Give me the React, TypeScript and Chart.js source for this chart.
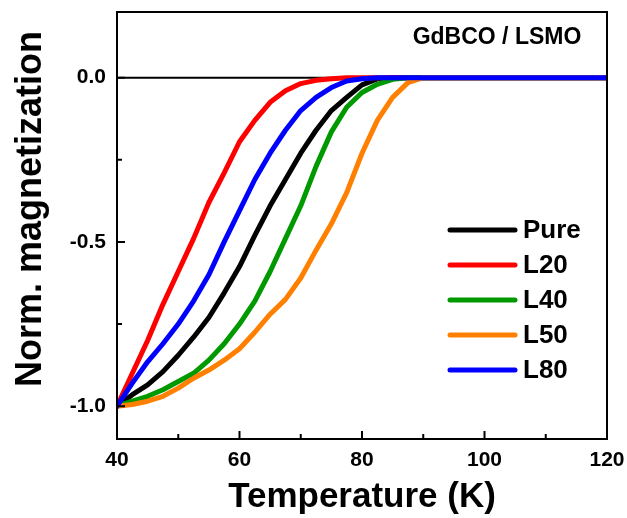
import React, { useEffect, useRef } from "react";
import { Chart, registerables } from "chart.js";

Chart.register(...registerables);

// ---- data ----
const temperatures = [
  40, 42.5, 45, 47.5, 50, 52.5, 55, 57.5, 60, 62.5, 65, 67.5, 70, 72.5, 75,
  77.5, 80, 82.5, 85, 87.5, 90, 95, 100, 105, 110, 115, 120,
];
const pure = [
  -1.0, -0.965, -0.935, -0.895, -0.845, -0.79, -0.73, -0.655, -0.575, -0.48,
  -0.39, -0.31, -0.23, -0.16, -0.1, -0.06, -0.022, -0.004, 0, 0, 0, 0, 0, 0, 0,
  0, 0,
];
const l20 = [
  -1.0, -0.9, -0.8, -0.69, -0.59, -0.49, -0.38, -0.29, -0.195, -0.13, -0.075,
  -0.04, -0.018, -0.008, -0.003, 0, 0, 0, 0, 0, 0, 0, 0, 0, 0, 0, 0,
];
const l40 = [
  -1.0, -0.985, -0.97, -0.95, -0.925, -0.9, -0.86, -0.81, -0.75, -0.68, -0.59,
  -0.49, -0.39, -0.27, -0.165, -0.09, -0.045, -0.02, -0.005, 0, 0, 0, 0, 0, 0,
  0, 0,
];
const l50 = [
  -1.0, -0.995, -0.985, -0.97, -0.945, -0.915, -0.89, -0.86, -0.825, -0.775,
  -0.72, -0.675, -0.61, -0.525, -0.445, -0.35, -0.23, -0.13, -0.06, -0.015, 0,
  0, 0, 0, 0, 0, 0,
];
const l80 = [
  -1.0, -0.93, -0.865, -0.81, -0.75, -0.68, -0.6, -0.5, -0.405, -0.31, -0.23,
  -0.16, -0.1, -0.06, -0.03, -0.01, -0.003, 0, 0, 0, 0, 0, 0, 0, 0, 0, 0,
];
const seriesNames = ["Pure", "L20", "L40", "L50", "L80"];
const seriesValues = [pure, l20, l40, l50, l80];
const seriesColors = ["#000000", "#ff0000", "#009900", "#ff8000", "#0000ff"];
const xTickValues = [40, 50, 60, 70, 80, 90, 100, 110, 120];
const yTickValues = [-1.0, -0.75, -0.5, -0.25, 0];
const sampleLabel = "GdBCO / LSMO";
const xTitle = "Temperature (K)";
const yTitle = "Norm. magnetization";

const FONT = "'Liberation Sans', Arial, sans-serif";

const isMajorX = (v: number) => Math.abs(v % 20) < 1e-9;
const isMajorY = (v: number) => Math.abs(v * 2 - Math.round(v * 2)) < 1e-9;

const framePlugin = {
  id: "frame",
  beforeDatasetsDraw(chart: any) {
    const { ctx, chartArea } = chart;
    const y0 = chart.scales.y.getPixelForValue(0);
    ctx.save();
    ctx.strokeStyle = "#000";
    ctx.lineWidth = 2;
    ctx.beginPath();
    ctx.moveTo(chartArea.left, y0);
    ctx.lineTo(chartArea.right, y0);
    ctx.stroke();
    ctx.restore();
  },
  afterDatasetsDraw(chart: any) {
    const { ctx, chartArea } = chart;
    const xs = chart.scales.x;
    const ys = chart.scales.y;
    ctx.save();
    ctx.strokeStyle = "#000";
    ctx.lineWidth = 2;
    ctx.strokeRect(
      chartArea.left,
      chartArea.top,
      chartArea.right - chartArea.left,
      chartArea.bottom - chartArea.top
    );
    ctx.beginPath();
    xTickValues.forEach((v) => {
      const px = xs.getPixelForValue(v);
      const len = isMajorX(v) ? 8 : 5;
      ctx.moveTo(px, chartArea.bottom);
      ctx.lineTo(px, chartArea.bottom - len);
    });
    yTickValues.forEach((v) => {
      const py = ys.getPixelForValue(v);
      const len = isMajorY(v) ? 8 : 5;
      ctx.moveTo(chartArea.left, py);
      ctx.lineTo(chartArea.left + len, py);
    });
    ctx.stroke();

    ctx.fillStyle = "#000";

    // y-axis title
    ctx.save();
    ctx.font = `bold 36px ${FONT}`;
    ctx.textAlign = "center";
    ctx.textBaseline = "middle";
    ctx.translate(31, chartArea.top + 197);
    ctx.rotate(-Math.PI / 2);
    ctx.fillText(yTitle, 0, 0);
    ctx.restore();

    // sample label
    ctx.font = `bold 23px ${FONT}`;
    ctx.textAlign = "center";
    ctx.textBaseline = "middle";
    ctx.fillText(sampleLabel, chartArea.right - 110, chartArea.top + 26);

    // legend
    ctx.font = `bold 26px ${FONT}`;
    ctx.textAlign = "left";
    ctx.lineCap = "round";
    ctx.lineWidth = 5;
    chart.data.datasets.forEach((ds: any, i: number) => {
      const yy = chartArea.top + 218 + i * 35;
      ctx.strokeStyle = ds.borderColor;
      ctx.beginPath();
      ctx.moveTo(chartArea.right - 157, yy);
      ctx.lineTo(chartArea.right - 92, yy);
      ctx.stroke();
      ctx.fillText(ds.label, chartArea.right - 84, yy + 1);
    });
    ctx.restore();
  },
};

const zeroPadding = (s: any) => {
  s.paddingTop = 0;
  s.paddingBottom = 0;
  s.paddingLeft = 0;
  s.paddingRight = 0;
};

export default function App() {
  const ref = useRef<HTMLCanvasElement | null>(null);
  useEffect(() => {
    document.body.style.margin = "0";
    if (!ref.current) return;
    Chart.defaults.font.family = FONT;
    const chart = new Chart(ref.current, {
      type: "line",
      data: {
        datasets: seriesNames.map((name, i) => ({
          label: name,
          data: temperatures.map((t, j) => ({ x: t, y: seriesValues[i][j] })),
          borderColor: seriesColors[i],
          backgroundColor: seriesColors[i],
          borderWidth: 5,
          pointRadius: 0,
          tension: 0,
          borderJoinStyle: "round",
          borderCapStyle: "round",
          fill: false,
          order: seriesNames.length - i,
        })),
      },
      options: {
        animation: false,
        responsive: false,
        layout: { padding: { left: 0, top: 12, right: 20, bottom: 0 } },
        plugins: {
          legend: { display: false },
          tooltip: { enabled: false },
        },
        scales: {
          x: {
            type: "linear",
            min: 40,
            max: 120,
            grid: { display: false, drawTicks: false },
            border: { display: false },
            afterBuildTicks: (s: any) => {
              s.ticks = xTickValues.map((v) => ({ value: v }));
            },
            afterFit: (s: any) => {
              s.height = 79;
              zeroPadding(s);
            },
            ticks: {
              autoSkip: false,
              maxRotation: 0,
              padding: 9,
              color: "#000",
              font: { size: 21, weight: "bold", family: FONT },
              callback: (v: any) => (isMajorX(Number(v)) ? String(v) : ""),
            },
            title: {
              display: true,
              text: xTitle,
              color: "#000",
              font: { size: 35, weight: "bold", family: FONT },
              padding: { top: -9, bottom: 0 },
            },
          },
          y: {
            type: "linear",
            min: -1.1,
            max: 0.2,
            grid: { display: false, drawTicks: false },
            border: { display: false },
            afterBuildTicks: (s: any) => {
              s.ticks = yTickValues.map((v) => ({ value: v }));
            },
            afterFit: (s: any) => {
              s.width = 117;
              zeroPadding(s);
            },
            ticks: {
              autoSkip: false,
              padding: 11,
              color: "#000",
              font: { size: 21, weight: "bold", family: FONT },
              callback: (v: any) =>
                isMajorY(Number(v)) ? Number(v).toFixed(1) : "",
            },
            title: { display: false, text: yTitle },
          },
        },
      },
      plugins: [framePlugin],
    } as any);
    return () => chart.destroy();
  }, []);
  return (
    <canvas
      ref={ref}
      width={627}
      height={518}
      style={{ display: "block", width: 627, height: 518 }}
    />
  );
}
